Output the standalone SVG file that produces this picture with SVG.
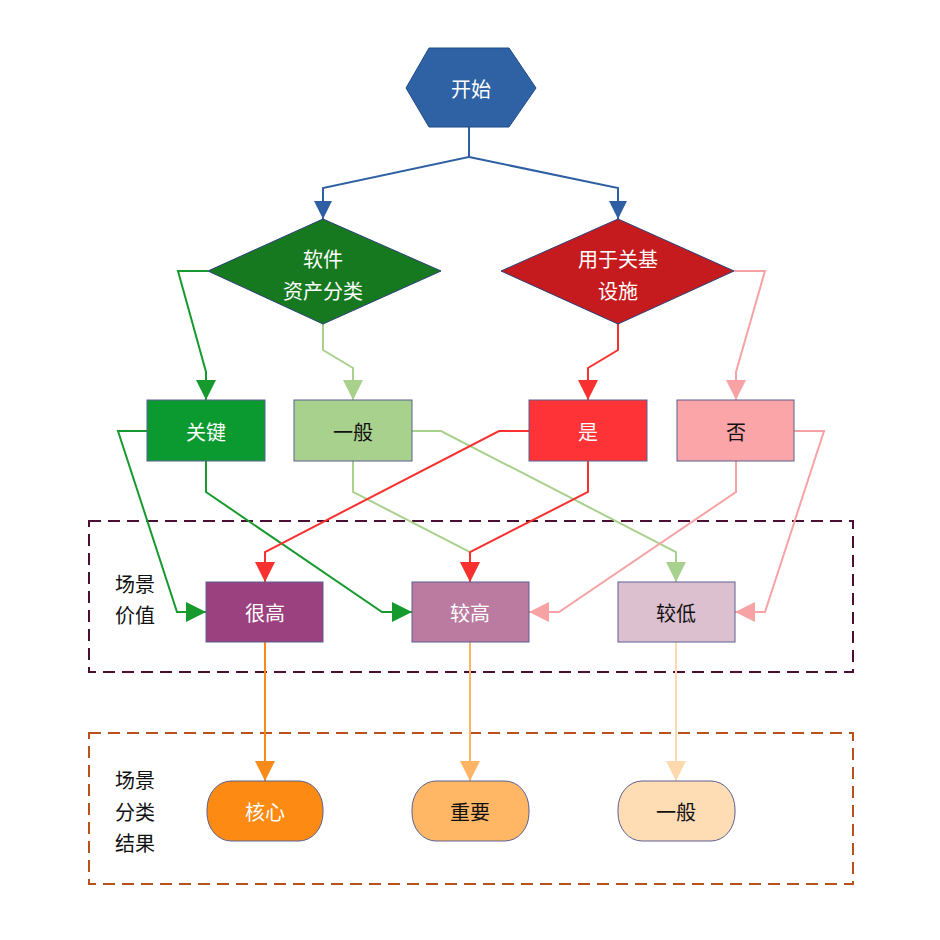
<svg xmlns="http://www.w3.org/2000/svg" width="940" height="940" viewBox="0 0 940 940">
<style>
.t{font-family:"Noto Sans CJK SC","Noto Sans",sans-serif;font-size:20px;text-anchor:middle;dominant-baseline:central}
.w{fill:#ffffff}
.k{fill:#111111}
.lab{font-family:"Noto Sans CJK SC","Noto Sans",sans-serif;font-size:20px;fill:#111111;dominant-baseline:central}
.ln{fill:none;stroke-width:2;stroke-linejoin:miter}
.box{stroke:#5a6090;stroke-width:1}
</style>
<defs>
<marker id="aBlue" viewBox="0 0 20 20" refX="20" refY="10" markerWidth="18" markerHeight="18" markerUnits="userSpaceOnUse" orient="auto"><path d="M0,0L20,10L0,20Z" fill="#2e5fa3"/></marker>
<marker id="aGreen" viewBox="0 0 20 20" refX="20" refY="10" markerWidth="20" markerHeight="20" markerUnits="userSpaceOnUse" orient="auto"><path d="M0,0L20,10L0,20Z" fill="#169a2e"/></marker>
<marker id="aLg" viewBox="0 0 20 20" refX="20" refY="10" markerWidth="20" markerHeight="20" markerUnits="userSpaceOnUse" orient="auto"><path d="M0,0L20,10L0,20Z" fill="#a9d18e"/></marker>
<marker id="aRed" viewBox="0 0 20 20" refX="20" refY="10" markerWidth="20" markerHeight="20" markerUnits="userSpaceOnUse" orient="auto"><path d="M0,0L20,10L0,20Z" fill="#f8302f"/></marker>
<marker id="aPink" viewBox="0 0 20 20" refX="20" refY="10" markerWidth="20" markerHeight="20" markerUnits="userSpaceOnUse" orient="auto"><path d="M0,0L20,10L0,20Z" fill="#f7a2a4"/></marker>
<marker id="aO1" viewBox="0 0 20 20" refX="20" refY="10" markerWidth="20" markerHeight="20" markerUnits="userSpaceOnUse" orient="auto"><path d="M0,0L20,10L0,20Z" fill="#f68a1a"/></marker>
<marker id="aO2" viewBox="0 0 20 20" refX="20" refY="10" markerWidth="20" markerHeight="20" markerUnits="userSpaceOnUse" orient="auto"><path d="M0,0L20,10L0,20Z" fill="#fdb464"/></marker>
<marker id="aO3" viewBox="0 0 20 20" refX="20" refY="10" markerWidth="20" markerHeight="20" markerUnits="userSpaceOnUse" orient="auto"><path d="M0,0L20,10L0,20Z" fill="#fdd9ad"/></marker>
</defs>
<rect width="940" height="940" fill="#ffffff"/>
<g id="group-value">
<rect x="89" y="521" width="764" height="151" fill="none" stroke="#4a0f32" stroke-width="2" stroke-dasharray="12 7"/>
<text class="lab" x="115" y="583">场景</text>
<text class="lab" x="115" y="614">价值</text>
</g>
<g id="group-result">
<rect x="89" y="733" width="764" height="151" fill="none" stroke="#b9511a" stroke-width="2" stroke-dasharray="12 7"/>
<text class="lab" x="115" y="779">场景</text>
<text class="lab" x="115" y="811">分类</text>
<text class="lab" x="115" y="842">结果</text>
</g>
<g id="connectors">
<path class="ln" stroke="#2e5fa3" stroke-width="2.5" d="M469,127V157L323,188V219" marker-end="url(#aBlue)"/>
<path class="ln" stroke="#2e5fa3" stroke-width="2.5" d="M469,157L618,188V219" marker-end="url(#aBlue)"/>
<path class="ln" stroke="#169a2e" d="M208,271H178L206,372V400" marker-end="url(#aGreen)"/>
<path class="ln" stroke="#a9d18e" d="M323,324V350L353,368V400" marker-end="url(#aLg)"/>
<path class="ln" stroke="#f8302f" d="M618,324V350L588,368V400" marker-end="url(#aRed)"/>
<path class="ln" stroke="#f7a2a4" d="M734,271H765L736,372V400" marker-end="url(#aPink)"/>
<path class="ln" stroke="#169a2e" d="M147,431H118L177,612H206" marker-end="url(#aGreen)"/>
<path class="ln" stroke="#169a2e" d="M206,461V492L382,612H412" marker-end="url(#aGreen)"/>
<path class="ln" stroke="#a9d18e" d="M353,461V492L470,552V582" marker-end="url(#aLg)"/>
<path class="ln" stroke="#a9d18e" d="M412,431H441L676,552V582" marker-end="url(#aLg)"/>
<path class="ln" stroke="#f8302f" d="M529,431H499L265,552V582" marker-end="url(#aRed)"/>
<path class="ln" stroke="#f8302f" d="M588,461V492L470,552V582" marker-end="url(#aRed)"/>
<path class="ln" stroke="#f7a2a4" d="M736,461V492L559,612H529" marker-end="url(#aPink)"/>
<path class="ln" stroke="#f7a2a4" d="M794,431H824L765,612H735" marker-end="url(#aPink)"/>
<path class="ln" stroke="#f68a1a" d="M265,642V781" marker-end="url(#aO1)"/>
<path class="ln" stroke="#fdb464" d="M470,642V781" marker-end="url(#aO2)"/>
<path class="ln" stroke="#fdd9ad" d="M676,642V781" marker-end="url(#aO3)"/>
</g>
<g id="start">
<polygon points="429,48 509,48 536,88 509,127 429,127 406,88" fill="#2f62a4" stroke="#1f4a8a" stroke-width="1"/>
<text class="t w" x="471" y="88">开始</text>
</g>
<g id="d-software">
<polygon points="323,219 441,271 323,324 208,271" fill="#17791f" stroke="#2a3f7a" stroke-width="1"/>
<text class="t w" x="323" y="258">软件</text>
<text class="t w" x="323" y="290">资产分类</text>
</g>
<g id="d-infra">
<polygon points="618,219 734,271 618,324 501,271" fill="#c61b1e" stroke="#2a3f7a" stroke-width="1"/>
<text class="t w" x="618" y="258">用于关基</text>
<text class="t w" x="618" y="290">设施</text>
</g>
<g id="n-key">
<rect class="box" x="147" y="400" width="118" height="61" fill="#0b9a30"/>
<text class="t w" x="206" y="431">关键</text>
</g>
<g id="n-normal">
<rect class="box" x="294" y="400" width="118" height="61" fill="#a9d18e"/>
<text class="t k" x="353" y="431">一般</text>
</g>
<g id="n-yes">
<rect class="box" x="529" y="400" width="118" height="61" fill="#fd3337"/>
<text class="t w" x="588" y="431">是</text>
</g>
<g id="n-no">
<rect class="box" x="677" y="400" width="117" height="61" fill="#fba5a8"/>
<text class="t k" x="736" y="431">否</text>
</g>
<g id="v-high">
<rect class="box" x="206" y="582" width="117" height="60" fill="#9b4180"/>
<text class="t w" x="265" y="612">很高</text>
</g>
<g id="v-mid">
<rect class="box" x="412" y="582" width="117" height="60" fill="#bb7aa0"/>
<text class="t w" x="470" y="612">较高</text>
</g>
<g id="v-low">
<rect class="box" x="618" y="582" width="117" height="60" fill="#ddc0d0"/>
<text class="t k" x="676" y="612">较低</text>
</g>
<g id="r-core">
<rect class="box" x="207" y="781" width="116" height="60" rx="24" ry="28" fill="#fd8a12"/>
<text class="t w" x="265" y="811">核心</text>
</g>
<g id="r-important">
<rect class="box" x="412" y="781" width="117" height="60" rx="24" ry="28" fill="#ffb766"/>
<text class="t k" x="470" y="811">重要</text>
</g>
<g id="r-normal">
<rect class="box" x="618" y="781" width="117" height="60" rx="24" ry="28" fill="#fedcb4"/>
<text class="t k" x="676" y="811">一般</text>
</g>
</svg>
